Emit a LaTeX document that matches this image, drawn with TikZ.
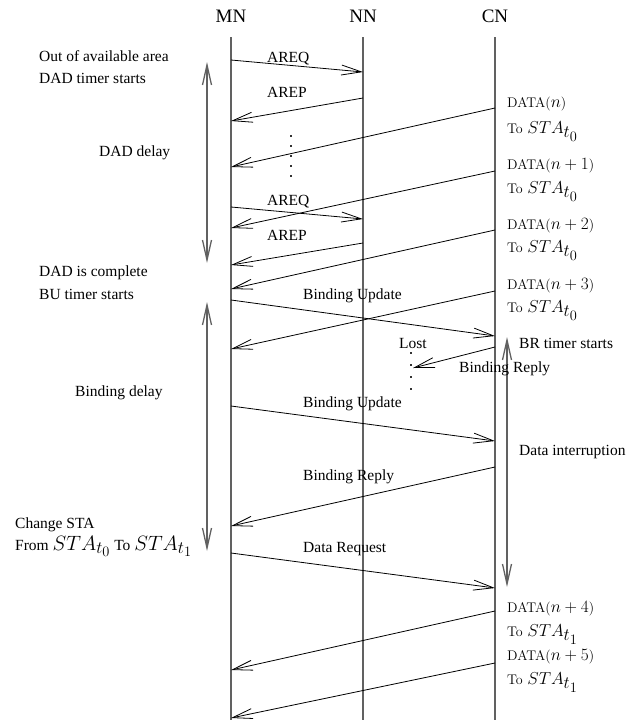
\documentclass[tikz,border=0pt]{standalone}
\usepackage[no-math]{fontspec}
\setmainfont{Liberation Serif}
\usetikzlibrary{arrows.meta}
\DeclareMathSizes{14}{17.28}{17.28}{14.4}
\DeclareMathSizes{15.5}{20.74}{17.28}{14.4}
\newcommand\lmtxt{\fontfamily{lmr}\selectfont}
\begin{document}
\begin{tikzpicture}[x=1pt,y=-1pt,
  life/.style={draw=black!62, line width=1.3pt},
  msg/.style={draw, line width=0.8pt, -{Straight Barb[length=20pt,width=10pt,line width=0.8pt]}},
  delay/.style={draw=black!62, line width=1.3pt, {Straight Barb[length=20pt,width=9pt]}-{Straight Barb[length=20pt,width=9pt]}},
  dotline/.style={draw=black!80, line width=1.6pt, dash pattern=on 1.6pt off 8.4pt},
  txt/.style={inner sep=0, anchor=base west, font=\fontsize{15.5}{18}\selectfont},
  cmtxt/.style={inner sep=0, anchor=base west, font=\fontsize{14}{17}\selectfont\lmtxt},
  hdr/.style={inner sep=0, anchor=base, font=\fontsize{19}{22}\selectfont}]
\useasboundingbox (0,0) rectangle (628,720);

% headers and lifelines
\node[hdr] (hMN) at (231,23) {MN};
\node[hdr] (hNN) at (363,23) {NN};
\node[hdr] (hCN) at (495,23) {CN};
\coordinate (mnT) at (231,37); \coordinate (mnB) at (231,720);
\coordinate (nnT) at (363,37); \coordinate (nnB) at (363,720);
\coordinate (cnT) at (495,37); \coordinate (cnB) at (495,720);
\draw[life] (mnT) -- (mnB);
\draw[life] (nnT) -- (nnB);
\draw[life] (cnT) -- (cnB);

% message end points
\coordinate (a1s) at (231,60);  \coordinate (a1e) at (363,72);
\coordinate (a2s) at (363,98);  \coordinate (a2e) at (231,121);
\coordinate (d0s) at (495,108); \coordinate (d0e) at (231,167);
\coordinate (a3s) at (231,207); \coordinate (a3e) at (363,219);
\coordinate (d1s) at (495,171); \coordinate (d1e) at (231,228);
\coordinate (a4s) at (363,243); \coordinate (a4e) at (231,265);
\coordinate (d2s) at (495,230); \coordinate (d2e) at (231,289);
\coordinate (b1s) at (231,300); \coordinate (b1e) at (495,336);
\coordinate (d3s) at (495,291); \coordinate (d3e) at (231,349);
\coordinate (r1s) at (495,347); \coordinate (r1e) at (413,368);
\coordinate (b2s) at (231,406); \coordinate (b2e) at (495,441);
\coordinate (r2s) at (495,467); \coordinate (r2e) at (231,526);
\coordinate (qs)  at (231,553); \coordinate (qe)  at (495,588);
\coordinate (d4s) at (495,611); \coordinate (d4e) at (231,670);
\coordinate (d5s) at (495,663); \coordinate (d5e) at (231,718);

\draw[msg] (a1s) -- (a1e);
\draw[msg] (a2s) -- (a2e);
\draw[msg] (d0s) -- (d0e);
\draw[msg] (a3s) -- (a3e);
\draw[msg] (d1s) -- (d1e);
\draw[msg] (a4s) -- (a4e);
\draw[msg] (d2s) -- (d2e);
\draw[msg] (b1s) -- (b1e);
\draw[msg] (d3s) -- (d3e);
\draw[msg] (r1s) -- (r1e);
\draw[msg] (b2s) -- (b2e);
\draw[msg] (r2s) -- (r2e);
\draw[msg] (qs) -- (qe);
\draw[msg] (d4s) -- (d4e);
\draw[msg] (d5s) -- (d5e);

% dotted lines
\coordinate (dt1) at (291,135); \coordinate (db1) at (291,177);
\coordinate (dt2) at (411,352); \coordinate (db2) at (411,390);
\draw[dotline] (dt1) -- (db1);
\draw[dotline, dash pattern=on 1.6pt off 10.4pt] (dt2) -- (db2);

% delay arrows
\coordinate (dadT) at (207,62);  \coordinate (dadB) at (207,263);
\coordinate (bdT)  at (207,302); \coordinate (bdB)  at (207,551);
\coordinate (diT)  at (507,337); \coordinate (diB)  at (507,587);
\draw[delay] (dadT) -- (dadB);
\draw[delay] (bdT) -- (bdB);
\draw[delay] (diT) -- (diB);

% message labels
\node[txt] (lA1) at (267,62) {AREQ};
\node[txt] (lA2) at (267,97) {AREP};
\node[txt] (lA3) at (267,205) {AREQ};
\node[txt] (lA4) at (267,240) {AREP};
\node[txt] (lB1) at (303,299) {Binding Update};
\node[txt] (lLost) at (399,348) {Lost};
\node[txt] (lR1) at (459,372) {Binding Reply};
\node[txt] (lB2) at (303,407) {Binding Update};
\node[txt] (lR2) at (303,480) {Binding Reply};
\node[txt] (lQ) at (303,552) {Data Request};

% right side labels
\node[cmtxt] (ld0) at (507,107) {DATA($n$)};
\node[cmtxt] (lt0) at (507,133) {To $STA_{t_0}$};
\node[cmtxt] (ld1) at (507,169) {DATA($n+1$)};
\node[cmtxt] (lt1) at (507,193) {To $STA_{t_0}$};
\node[cmtxt] (ld2) at (507,229) {DATA($n+2$)};
\node[cmtxt] (lt2) at (507,252) {To $STA_{t_0}$};
\node[cmtxt] (ld3) at (507,289) {DATA($n+3$)};
\node[cmtxt] (lt3) at (507,312) {To $STA_{t_0}$};
\node[cmtxt] (ld4) at (507,612) {DATA($n+4$)};
\node[cmtxt] (lt4) at (507,636) {To $STA_{t_1}$};
\node[cmtxt] (ld5) at (507,660) {DATA($n+5$)};
\node[cmtxt] (lt5) at (507,684) {To $STA_{t_1}$};
\node[txt] (lBR) at (519,348) {BR timer starts};
\node[txt] (lDI) at (519,455) {Data interruption};

% left side labels
\node[txt] (lOut) at (39,61) {Out of available area};
\node[txt] (lDT) at (39,83) {DAD timer starts};
\node[txt] (lDD) at (99,156) {DAD delay};
\node[txt] (lDC) at (39,276) {DAD is complete};
\node[txt] (lBU) at (39,299) {BU timer starts};
\node[txt] (lBD) at (75,396) {Binding delay};
\node[txt] (lCS) at (15,528) {Change STA};
\node[txt] (lFr) at (15,550) {From $STA_{t_0}$ To $STA_{t_1}$};
\end{tikzpicture}
\end{document}
